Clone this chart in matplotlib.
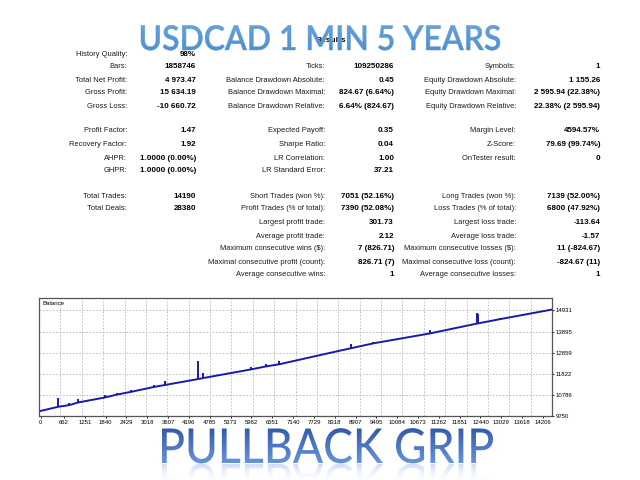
import matplotlib
matplotlib.use("Agg")
import matplotlib.pyplot as plt
import numpy as np
from matplotlib.textpath import TextPath
from matplotlib.patches import PathPatch
from matplotlib.font_manager import FontProperties
from matplotlib.transforms import Affine2D
from matplotlib.colors import to_rgb

# ---- report table ----
row_y = [54, 67, 80, 93, 106, 131, 145, 158, 171, 196, 209, 222, 236, 249, 262, 275]

col1_rows = [0, 1, 2, 3, 4, 5, 6, 7, 8, 9, 10]
col1_labels = ["History Quality:", "Bars:", "Total Net Profit:", "Gross Profit:", "Gross Loss:",
               "Profit Factor:", "Recovery Factor:", "AHPR:", "GHPR:",
               "Total Trades:", "Total Deals:"]
col1_values = ["98%", "1858746", "4 973.47", "15 634.19", "-10 660.72",
               "1.47", "1.92", "1.0000 (0.00%)", "1.0000 (0.00%)",
               "14190", "28380"]

col2_rows = [1, 2, 3, 4, 5, 6, 7, 8, 9, 10, 11, 12, 13, 14, 15]
col2_labels = ["Ticks:", "Balance Drawdown Absolute:", "Balance Drawdown Maximal:",
               "Balance Drawdown Relative:", "Expected Payoff:", "Sharpe Ratio:",
               "LR Correlation:", "LR Standard Error:", "Short Trades (won %):",
               "Profit Trades (% of total):", "Largest profit trade:", "Average profit trade:",
               "Maximum consecutive wins ($):", "Maximal consecutive profit (count):",
               "Average consecutive wins:"]
col2_values = ["109250286", "0.45", "824.67 (6.64%)", "6.64% (824.67)", "0.35", "0.04",
               "1.00", "37.21", "7051 (52.16%)", "7390 (52.08%)", "301.73", "2.12",
               "7 (826.71)", "826.71 (7)", "1"]

col3_rows = [1, 2, 3, 4, 5, 6, 7, 9, 10, 11, 12, 13, 14, 15]
col3_labels = ["Symbols:", "Equity Drawdown Absolute:", "Equity Drawdown Maximal:",
               "Equity Drawdown Relative:", "Margin Level:", "Z-Score:", "OnTester result:",
               "Long Trades (won %):", "Loss Trades (% of total):", "Largest loss trade:",
               "Average loss trade:", "Maximum consecutive losses ($):",
               "Maximal consecutive loss (count):", "Average consecutive losses:"]
col3_values = ["1", "1 155.26", "2 595.94 (22.38%)", "22.38% (2 595.94)", "4594.57%",
               "79.69 (99.74%)", "0", "7139 (52.00%)", "6800 (47.92%)", "-113.64", "-1.57",
               "11 (-824.67)", "-824.67 (11)", "1"]

# ---- balance graph ----
bal_trades = [0, 500, 812, 1066, 1821, 2170, 2548, 3207, 3518, 4460, 4601, 5950,
              6374, 6750, 8185, 8770, 9409, 11012, 12350, 12992, 14462]
bal_values = [10000, 10202, 10285, 10416, 10660, 10805, 10932, 11175, 11272, 11564, 11613,
              12036, 12182, 12290, 12848, 13072, 13315, 13802, 14288, 14502, 14973]

spike_trades = [500, 812, 1066, 1821, 2170, 2548, 3207, 3518, 4460, 4601, 5950, 6374,
                6750, 8770, 9409, 11012, 12340, 12375, 12992]
spike_low = [10202, 10285, 10416, 10660, 10805, 10932, 11175, 11272, 11564, 11613, 12036,
             12182, 12290, 13072, 13315, 13802, 14285, 14295, 14502]
spike_high = [10611, 10397, 10577, 10757, 10903, 11029, 11258, 11452, 12425, 11856, 12133,
              12279, 12440, 13286, 13383, 13982, 14794, 14760, 14580]

x_ticks = [0, 662, 1251, 1840, 2429, 3018, 3607, 4196, 4785, 5373, 5962, 6551, 7140,
           7729, 8318, 8907, 9495, 10084, 10673, 11262, 11851, 12440, 13029, 13618, 14206]
y_ticks = [9750, 10786, 11822, 12859, 13895, 14931]

W, H = 640, 480
fig = plt.figure(figsize=(6.4, 4.8), dpi=100)
fig.patch.set_facecolor("white")

# page overlay in pixel units
page = fig.add_axes([0, 0, 1, 1], zorder=3)
page.set_xlim(0, W)
page.set_ylim(H, 0)
page.axis("off")
page.patch.set_alpha(0)

tfont = "Liberation Sans"
cols = [(127, 196, col1_rows, col1_labels, col1_values),
        (325, 394, col2_rows, col2_labels, col2_values),
        (516, 600, col3_rows, col3_labels, col3_values)]
for lab_x, val_x, rows, labels, values in cols:
    for r, lab, val in zip(rows, labels, values):
        page.text(lab_x, row_y[r], lab, ha="right", va="center", fontsize=5.4,
                  family=tfont, color="#1a1a1a")
        page.text(val_x, row_y[r], val, ha="right", va="center", fontsize=5.8,
                  family=tfont, weight="bold", color="black")

page.text(331, 41, "Results", ha="center", va="center", fontsize=6.0, family=tfont,
          weight="bold", color="black", zorder=1)


def word_path(text, x0, x1, y_top, y_base, fp, flip=False):
    tp = TextPath((0, 0), text, size=100, prop=fp)
    ext = tp.get_extents()
    cap = TextPath((0, 0), "H", size=100, prop=fp).get_extents()
    sx = (x1 - x0) / ext.width
    sy = (y_base - y_top) / cap.height
    if flip:
        tr = Affine2D().translate(-ext.x0, 0).scale(sx, sy).translate(x0, y_base + 1)
    else:
        tr = Affine2D().translate(-ext.x0, 0).scale(sx, -sy).translate(x0, y_base)
    return tr.transform_path(tp)


def gradient_fill(path, x0, x1, y0, y1, c_top, c_bot, a_top=1.0, a_bot=1.0, z=5,
                  stroke=None, stroke_w=0.0):
    if stroke is not None:
        page.add_patch(PathPatch(path, facecolor="none", edgecolor=stroke,
                                 lw=stroke_w, zorder=z + 1))
    patch = PathPatch(path, facecolor="none", edgecolor="none")
    page.add_patch(patch)
    n = 64
    t = np.linspace(0, 1, n)[:, None]
    ct, cb = np.array(to_rgb(c_top)), np.array(to_rgb(c_bot))
    rgb = ct * (1 - t) + cb * t
    alpha = a_top * (1 - t) + a_bot * t
    img = np.concatenate([rgb, alpha], axis=1)[:, None, :]
    im = page.imshow(img, extent=(x0, x1, y1, y0), origin="upper", aspect="auto",
                     interpolation="bilinear", zorder=z)
    im.set_clip_path(patch)


title_fp = FontProperties(family="Lato", weight="semibold")
top_path = word_path("USDCAD 1 MIN 5 YEARS", 141, 500, 25.5, 50, title_fp)
gradient_fill(top_path, 135, 505, 22, 53, "#68a4dc", "#4e8ecf",
              stroke="#5b98d4", stroke_w=0.35)

bot_fp = FontProperties(family="Lato", weight="medium")
bot_path = word_path("PULLBACK GRIP", 162, 493, 428.5, 463, bot_fp)
gradient_fill(bot_path, 155, 500, 425, 465, "#2f55a6", "#6a96de")
refl_path = word_path("PULLBACK GRIP", 162, 493, 428, 463, bot_fp, flip=True)
gradient_fill(refl_path, 155, 500, 463, 485, "#7aa2e2", "#ffffff", 0.4, 0.0)

page.set_xlim(0, W)
page.set_ylim(H, 0)

# ---- balance chart ----
ax = fig.add_axes([39 / W, 1 - 416 / H, 513 / W, 118 / H], zorder=2)
ax.set_facecolor("white")
line_c = "#1a1aaa"
ax.plot(bal_trades, bal_values, color=line_c, lw=1.4, zorder=3)
ax.vlines(spike_trades, spike_low, spike_high, color=line_c, lw=1.4, zorder=3)

ax.set_xlim(-45, 14462)
ax.set_ylim(9750, 15540)
ax.set_xticks(x_ticks)
ax.set_xticklabels([str(v) for v in x_ticks])
ax.set_xticks(np.linspace(-45, 14462, 25)[1:-1], minor=True)
ax.set_yticks(y_ticks)
ax.yaxis.tick_right()
ax.tick_params(axis="both", which="major", labelsize=4.3, length=1.5, width=0.6,
               pad=1.2, colors="black")
ax.tick_params(axis="x", which="minor", length=0)
for lab in ax.get_xticklabels() + ax.get_yticklabels():
    lab.set_family(tfont)
ax.grid(False)
ax.xaxis.grid(True, which="minor", color="#b5b5b5", linestyle=(0, (2, 2)), lw=0.6)
ax.yaxis.grid(True, which="major", color="#b5b5b5", linestyle=(0, (2, 2)), lw=0.6)
for s in ax.spines.values():
    s.set_color("#555555")
    s.set_linewidth(0.9)
ax.text(0.006, 0.975, "Balance", transform=ax.transAxes, ha="left", va="top",
        fontsize=4.4, family=tfont, color="black")

fig.savefig("out.png", dpi=100, facecolor="white")
